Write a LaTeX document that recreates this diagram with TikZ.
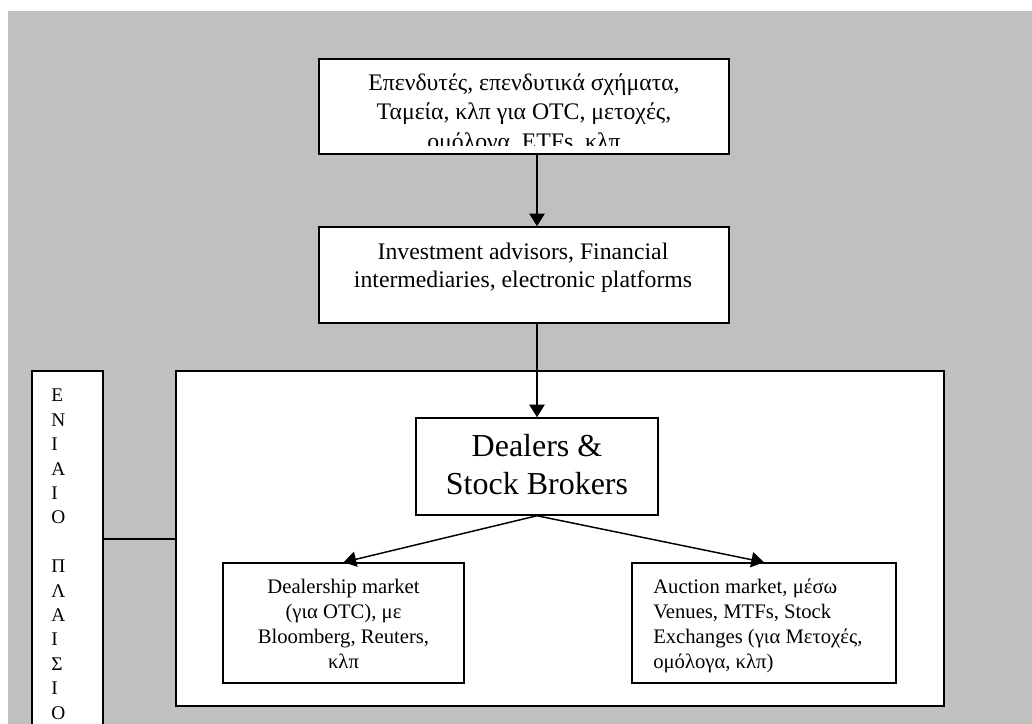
\documentclass[tikz,border=0pt]{standalone}
\usepackage{fontspec}
\setmainfont{Liberation Serif}
\usetikzlibrary{arrows.meta,fit}
\definecolor{bgGray}{HTML}{C0C0C0}
\begin{document}
\begin{tikzpicture}[x=0.75pt,y=-0.75pt,
  box/.style={draw=black,line width=1.1pt,fill=white,inner sep=0pt},
  arr/.style={line width=1.1pt,-{Triangle[length=9.5pt,width=11.5pt]}},
  lbl/.style={inner sep=0pt,anchor=north,align=center},
  big/.style={font=\fontsize{17.8pt}{20.8pt}\selectfont},
  mid/.style={font=\fontsize{15.5pt}{18.75pt}\selectfont}]
\clip (0,0) rectangle (1032,724);
\fill[white] (0,0) rectangle (1032,724);
\fill[bgGray] (8,11) rectangle (1032,724);
% frames
\node[box,fit={(176,371) (944,706)}] (frame) {};
\node[box,fit={(32,371) (103,740)}] (eniaio) {};
\node[lbl,anchor=north west,align=left,font=\fontsize{14.5pt}{18.3pt}\selectfont] (eniaiotext) at (51,389)
  {Ε\\Ν\\Ι\\Α\\Ι\\Ο\\\mbox{}\\Π\\Λ\\Α\\Ι\\Σ\\Ι\\Ο};
% top box
\node[box,fit={(319,59) (729,154)}] (top) {};
\begin{scope}
  \clip (321,61) rectangle (727,145);
  \node[lbl,font=\fontsize{17.8pt}{22.3pt}\selectfont] (toptext) at (524,73)
    {Επενδυτές, επενδυτικά σχήματα,\\Ταμεία, κλπ για OTC, μετοχές,\\ομόλογα, ETFs, κλπ};
\end{scope}
% second box
\node[box,fit={(319,227) (729,323)}] (inv) {};
\node[lbl,big] (invtext) at (523,243)
  {Investment advisors, Financial\\intermediaries, electronic platforms};
% dealers
\node[box,fit={(416,418) (658,515)}] (dealers) {};
\node[lbl,font=\fontsize{24pt}{28.5pt}\selectfont] (dealerstext) at (537,434)
  {Dealers \&\\Stock Brokers};
% lower boxes
\node[box,fit={(223,563) (464,683)}] (dealership) {};
\node[lbl,mid] (dealershiptext) at (343.5,579)
  {Dealership market\\(για OTC), με\\Bloomberg, Reuters,\\κλπ};
\node[box,fit={(632,563) (896,683)}] (auction) {};
\node[lbl,mid,anchor=north west,align=left] (auctiontext) at (653,579)
  {Auction market, μέσω\\Venues, MTFs, Stock\\Exchanges (για Μετοχές,\\ομόλογα, κλπ)};
% connectors
\draw[arr] (top.south -| dealers.north) -- (inv.north -| dealers.north);
\draw[arr] (inv.south -| dealers.north) -- (dealers.north);
\draw[arr] (dealers.south) -- (dealership.north);
\draw[arr] (dealers.south) -- (auction.north);
\coordinate (lk) at (103,539);
\draw[line width=1.1pt] (lk) -- (lk -| frame.west);
\end{tikzpicture}
\end{document}
